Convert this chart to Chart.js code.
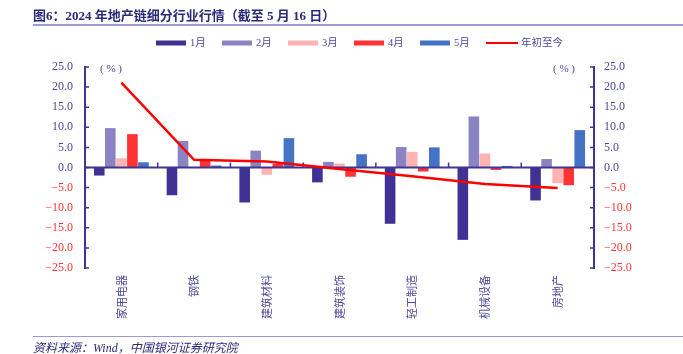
<!DOCTYPE html>
<html>
<head>
<meta charset="utf-8">
<script src="https://cdn.jsdelivr.net/npm/chart.js@4"></script>
<style>
    body { margin: 0; background: #fff; }
    #wrap { position: relative; width: 683px; height: 354px; }
    canvas { position: absolute; left: 0; top: 0; }
    .txt { position: absolute; white-space: nowrap; font-family: 'Liberation Serif', 'Noto Sans CJK SC', serif; }
    #title { left: 33px; top: 5px; font-size: 13px; font-weight: bold; color: #2a2a7a; }
    #title-line { position: absolute; left: 33px; top: 24px; width: 650px; height: 2px; background: #9c9ad2; }
    #src-line { position: absolute; left: 33px; top: 336px; width: 650px; height: 1px; background: #9c9ad2; }
    #source { left: 33px; top: 338px; font-size: 12px; font-style: italic; color: #2a2a7a; }
    .unit { top: 62px; font-size: 11px; color: #4b4a9b; }
</style>
</head>
<body>
<div id="wrap">
    <canvas id="chart" width="683" height="354"></canvas>
    <div id="title" class="txt">图6：2024 年地产链细分行业行情（截至 5 月 16 日）</div>
    <div id="title-line"></div>
    <div class="txt unit" style="left:100px;">( % )</div>
    <div class="txt unit" style="left:553px;">( % )</div>
    <div id="src-line"></div>
    <div id="source" class="txt">资料来源：Wind，中国银河证券研究院</div>
</div>
<script>
    // 数据
    const categories = ['家用电器', '钢铁', '建筑材料', '建筑装饰', '轻工制造', '机械设备', '房地产'];
    const jan = [-2.0, -6.9, -8.7, -3.7, -14.0, -18.0, -8.2];
    const feb = [9.8, 6.6, 4.2, 1.4, 5.1, 12.7, 2.1];
    const mar = [2.3, 0.1, -1.8, 1.0, 3.9, 3.5, -3.9];
    const apr = [8.3, 1.8, 0.9, -2.3, -1.0, -0.6, -4.4];
    const may = [1.3, 0.5, 7.3, 3.3, 5.0, 0.4, 9.3];
    const ytd = [21.1, 1.9, 1.5, -0.4, -2.2, -4.1, -5.1];
    const yTicks = [25, 20, 15, 10, 5, 0, -5, -10, -15, -20, -25];

    const axisColor = '#3f3592';
    const textColor = '#4b4a9b';
    const negColor = '#ff3333';

    Chart.defaults.font.family = "'Liberation Serif', 'Noto Sans CJK SC', serif";

    function barSet(label, data, color) {
        return {
            type: 'bar',
            label: label,
            data: data,
            backgroundColor: color,
            borderWidth: 0,
            yAxisID: 'y',
            order: 1
        };
    }

    function fmt(v) {
        return (v < 0 ? '\u2212' + Math.abs(v).toFixed(1) : v.toFixed(1));
    }

    // 零轴线 + 分类刻度，画在柱子之上、折线之下
    const axisDecor = {
        id: 'axisDecor',
        beforeDatasetDraw(chart, args) {
            if (args.index !== 0) return;
            const ctx = chart.ctx;
            const x = chart.scales.x;
            const y = chart.scales.y;
            const area = chart.chartArea;
            const y0 = y.getPixelForValue(0);
            ctx.save();
            ctx.strokeStyle = axisColor;
            ctx.lineWidth = 2;
            ctx.beginPath();
            ctx.moveTo(area.left, y0);
            ctx.lineTo(area.right, y0);
            ctx.stroke();
            ctx.lineWidth = 1.5;
            for (let i = 1; i < categories.length; i++) {
                const bx = (x.getPixelForTick(i - 1) + x.getPixelForTick(i)) / 2;
                ctx.beginPath();
                ctx.moveTo(bx, y0);
                ctx.lineTo(bx, y0 - 5);
                ctx.stroke();
            }
            // 纵轴内侧刻度
            yTicks.forEach(v => {
                const py = y.getPixelForValue(v);
                ctx.beginPath();
                ctx.moveTo(area.left, py);
                ctx.lineTo(area.left + 4, py);
                ctx.moveTo(area.right, py);
                ctx.lineTo(area.right - 4, py);
                ctx.stroke();
            });
            ctx.restore();
        }
    };

    // 图例
    const customLegend = {
        id: 'customLegend',
        afterDraw(chart) {
            const ctx = chart.ctx;
            const sets = chart.data.datasets.slice(1).concat(chart.data.datasets[0]);
            ctx.save();
            ctx.font = "10.5px 'Liberation Serif', 'Noto Sans CJK SC'";
            ctx.textBaseline = 'middle';
            sets.forEach((ds, i) => {
                const lx = 156 + 66 * i;
                const ly = 43;
                if (ds.type === 'line') {
                    ctx.strokeStyle = ds.borderColor;
                    ctx.lineWidth = 2;
                    ctx.beginPath();
                    ctx.moveTo(lx, ly);
                    ctx.lineTo(lx + 32, ly);
                    ctx.stroke();
                } else {
                    ctx.fillStyle = ds.backgroundColor;
                    ctx.fillRect(lx, ly - 2.5, 30, 5);
                }
                ctx.fillStyle = textColor;
                ctx.fillText(ds.label, lx + (ds.type === 'line' ? 35 : 34), ly);
            });
            ctx.restore();
        }
    };

    new Chart(document.getElementById('chart').getContext('2d'), {
        data: {
            labels: categories,
            datasets: [
                {
                    type: 'line',
                    label: '年初至今',
                    data: ytd,
                    borderColor: '#ff0000',
                    borderWidth: 2.5,
                    pointRadius: 0,
                    tension: 0,
                    fill: false,
                    yAxisID: 'y',
                    order: 0
                },
                barSet('1月', jan, '#403294'),
                barSet('2月', feb, '#8b84c2'),
                barSet('3月', mar, '#ffb3b3'),
                barSet('4月', apr, '#ff3333'),
                barSet('5月', may, '#4472c4')
            ]
        },
        options: {
            responsive: false,
            animation: false,
            events: [],
            layout: { padding: { top: 67, left: 0, right: 0, bottom: 0 } },
            datasets: {
                bar: { categoryPercentage: 0.76, barPercentage: 0.96 }
            },
            plugins: {
                legend: { display: false },
                tooltip: { enabled: false }
            },
            scales: {
                x: {
                    grid: { display: false, drawTicks: false },
                    border: { display: false },
                    ticks: {
                        minRotation: 90,
                        maxRotation: 90,
                        padding: 7,
                        color: textColor,
                        font: { size: 11, family: "'Noto Sans CJK SC'" }
                    },
                    afterFit(scale) { scale.height = 86; }
                },
                y: {
                    position: 'left',
                    min: -25,
                    max: 25,
                    afterBuildTicks(scale) { scale.ticks = yTicks.map(v => ({ value: v })); },
                    grid: { display: false, drawTicks: false },
                    border: { display: true, color: axisColor, width: 2 },
                    ticks: {
                        padding: 12,
                        callback: v => fmt(v),
                        color: ctx => ctx.tick.value < 0 ? negColor : textColor,
                        font: { size: 12 }
                    },
                    afterFit(scale) { scale.width = 85; }
                },
                y2: {
                    position: 'right',
                    min: -25,
                    max: 25,
                    afterBuildTicks(scale) { scale.ticks = yTicks.map(v => ({ value: v })); },
                    grid: { display: false, drawTicks: false },
                    border: { display: true, color: axisColor, width: 2 },
                    ticks: {
                        padding: 10,
                        callback: v => fmt(v),
                        color: ctx => ctx.tick.value < 0 ? negColor : textColor,
                        font: { size: 12 }
                    },
                    afterFit(scale) { scale.width = 89; }
                }
            }
        },
        plugins: [axisDecor, customLegend]
    });
</script>
</body>
</html>
